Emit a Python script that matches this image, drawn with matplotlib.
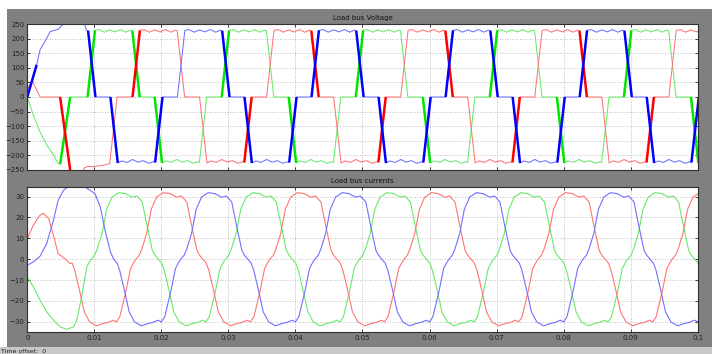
import numpy as np
import matplotlib
matplotlib.use("Agg")
import matplotlib.pyplot as plt
from matplotlib.patches import Rectangle

# 50 Hz load bus, times in ms
period_ms = 20.0

# one steady cycle of a phase voltage, starting at its 0 -> +V edge
v_cycle_ms = [0.0, 1.1, 1.7, 2.5, 3.3, 4.1, 4.9, 5.7, 6.4, 6.67, 7.77,
              10.0, 11.1, 11.7, 12.5, 13.3, 14.1, 14.9, 15.7, 16.4, 16.67, 17.77]
v_cycle_val = [0, 228, 231, 222, 230, 223, 231, 222, 229, 227, 0,
               0, -226, -219, -224, -214, -223, -218, -227, -222, -224, 0]

# first steady 0 -> +V edge of each phase (ms)
green_v_first = 9.0
red_v_first = 15.7
blue_v_first = 2.4

# start-up part of the voltages, before the steady cycles
green_v_t0 = [0.0, 0.9, 1.9, 2.9, 3.9, 4.6, 4.9, 6.4]
green_v_v0 = [0, -62, -119, -164, -199, -227, -230, 0]
red_v_t0 = [0.0, 0.7, 1.9, 4.9, 6.4, 6.8, 8.3, 8.5, 9.0, 10.0, 11.5, 12.3, 13.4]
red_v_v0 = [25, 58, 0, 0, -250, -265, -262, -243, -238, -238, -233, -228, 0]
blue_v_t0 = [0.0, 1.4, 1.9, 2.9, 3.4, 4.6, 5.4, 6.0, 8.4]
blue_v_v0 = [0, 110, 161, 201, 224, 232, 250, 265, 265]

# edges that show up as thick (noisy) strokes, ms
green_bold_ms = [4.9, 9.0, 15.8, 19.0, 29.0, 39.0, 49.0, 59.0, 69.0, 79.0, 89.0, 99.0]
red_bold_ms = [4.9, 15.7, 32.4, 42.4, 52.4, 62.4, 72.4, 82.4, 92.4]
blue_bold_ms = [0.0, 9.1, 12.4, 19.1, 29.1, 32.4, 39.1, 42.4, 49.1, 52.4,
                59.1, 62.4, 69.1, 72.4, 79.1, 82.4, 89.1, 92.4, 99.1]

# one steady cycle of a phase current, starting at its rising zero crossing
i_cycle_ms = [0.0, 0.5, 0.9, 1.6, 2.3, 3.1, 4.1, 5.1, 6.1, 6.8, 7.6, 8.3, 9.1, 9.5,
              10.0, 10.5, 10.9, 11.6, 12.3, 13.1, 14.1, 15.1, 15.9, 16.6, 17.1, 17.6,
              18.5, 19.2, 19.6]
i_cycle_val = [0.0, 1.9, 5.0, 12.3, 24.0, 29.8, 31.9, 31.4, 29.7, 30.3, 27.4, 16.3, 4.3, 1.9,
               0.0, -1.9, -5.5, -15.0, -25.2, -30.0, -31.9, -30.8, -30.2, -29.2, -30.0, -27.6,
               -15.6, -4.5, -2.0]

green_i_first = 9.55
red_i_first = 16.2
blue_i_first = 2.9

green_i_t0 = [0.0, 0.9, 1.9, 2.9, 3.9, 4.9, 5.9, 6.9, 7.4, 8.1, 8.9]
green_i_v0 = [-8.5, -13.2, -19.6, -25.2, -29.2, -32.4, -33.6, -32.4, -29.0, -18.0, -3.3]
red_i_t0 = [0.0, 0.9, 1.9, 2.4, 3.2, 3.9, 4.6, 5.6, 6.4]
red_i_v0 = [9.9, 16.3, 21.1, 22.0, 19.5, 11.5, 2.7, 0.3, -2.1]
blue_i_t0 = [0.0, 0.9, 1.9, 2.9, 3.9, 4.6, 5.4, 6.4, 7.9, 8.6, 9.4, 10.1, 10.9, 11.6, 12.4]
blue_i_v0 = [-2.9, -1.3, 1.4, 7.5, 18.7, 28.2, 33.0, 35.5, 36.0, 34.6, 33.0, 31.4, 25.0, 13.9, 3.5]

thin_colors = {"green": "#6ae86a", "red": "#ff7474", "blue": "#7070ff"}
bold_colors = {"green": "#00e600", "red": "#ff0000", "blue": "#0000ff"}


def build(t0, v0, cyc_ms, cyc_val, first_ms):
    # start-up points, then the steady cycle repeated every period
    t = list(t0)
    v = list(v0)
    for k in range(-1, 6):
        for ms, val in zip(cyc_ms, cyc_val):
            tt = first_ms + k * period_ms + ms
            if t0[-1] + 1e-6 < tt <= 103:
                t.append(tt)
                v.append(val)
    return np.array(t) / 1000.0, np.array(v, dtype=float)


def style_axes(ax, title):
    ax.set_facecolor("white")
    ax.set_xlim(0, 0.1)
    ax.set_xticks(np.arange(0, 0.1001, 0.01))
    ax.grid(True, color="#a8a8a8", linestyle=(0, (1, 2)), linewidth=0.6)
    ax.tick_params(direction="in", length=2.5, width=0.6, labelsize=5, colors="#202020",
                   top=True, right=True, pad=2)
    for s in ax.spines.values():
        s.set_color("#303030")
        s.set_linewidth(0.8)
    ax.set_title(title, fontsize=5, color="#101010", pad=3)


fig = plt.figure(figsize=(7.12, 3.54), dpi=100)
fig.patch.set_facecolor("white")
fig.patches.append(Rectangle((7 / 712, 7 / 354), 1, 1 - 16 / 354, transform=fig.transFigure,
                             facecolor="#808080", edgecolor="none", zorder=-1))
fig.patches.append(Rectangle((0, 0), 1, 7 / 354, transform=fig.transFigure,
                             facecolor="#c8c8c8", edgecolor="none", zorder=-1))

ax1 = fig.add_axes([0.0383, 0.5198, 0.9416, 0.4124])
ax2 = fig.add_axes([0.0383, 0.0613, 0.9416, 0.4105])

# voltages
v_series = [
    ("green", green_v_t0, green_v_v0, green_v_first, green_bold_ms),
    ("red", red_v_t0, red_v_v0, red_v_first, red_bold_ms),
    ("blue", blue_v_t0, blue_v_v0, blue_v_first, blue_bold_ms),
]
built = []
for name, t0, v0, first, bold in v_series:
    t, v = build(t0, v0, v_cycle_ms, v_cycle_val, first)
    ax1.plot(t, v, color=thin_colors[name], lw=0.75)
    built.append((name, t, v, bold))
for name, t, v, bold in built:
    for b in bold:
        m = (t >= (b - 0.15) / 1000) & (t <= (b + 1.55) / 1000)
        ax1.plot(t[m], v[m], color=bold_colors[name], lw=1.8, solid_capstyle="butt")

ax1.set_ylim(-250, 250)
ax1.set_yticks(np.arange(-250, 251, 50))
ax1.set_xticklabels([])
style_axes(ax1, "Load bus Voltage")

# currents
i_series = [
    ("green", green_i_t0, green_i_v0, green_i_first),
    ("red", red_i_t0, red_i_v0, red_i_first),
    ("blue", blue_i_t0, blue_i_v0, blue_i_first),
]
for name, t0, v0, first in i_series:
    t, v = build(t0, v0, i_cycle_ms, i_cycle_val, first)
    ax2.plot(t, v, color=thin_colors[name], lw=0.8)

ax2.set_ylim(-35, 34.6)
ax2.set_yticks(np.arange(-30, 31, 10))
ax2.set_xticklabels(["0", "0.01", "0.02", "0.03", "0.04", "0.05",
                     "0.06", "0.07", "0.08", "0.09", "0.1"])
style_axes(ax2, "Load bus currents")

fig.text(0.002, 0.004, "Time offset:  0", fontsize=4.5, color="#202020")

fig.savefig("out.png", dpi=100, facecolor=fig.get_facecolor())
